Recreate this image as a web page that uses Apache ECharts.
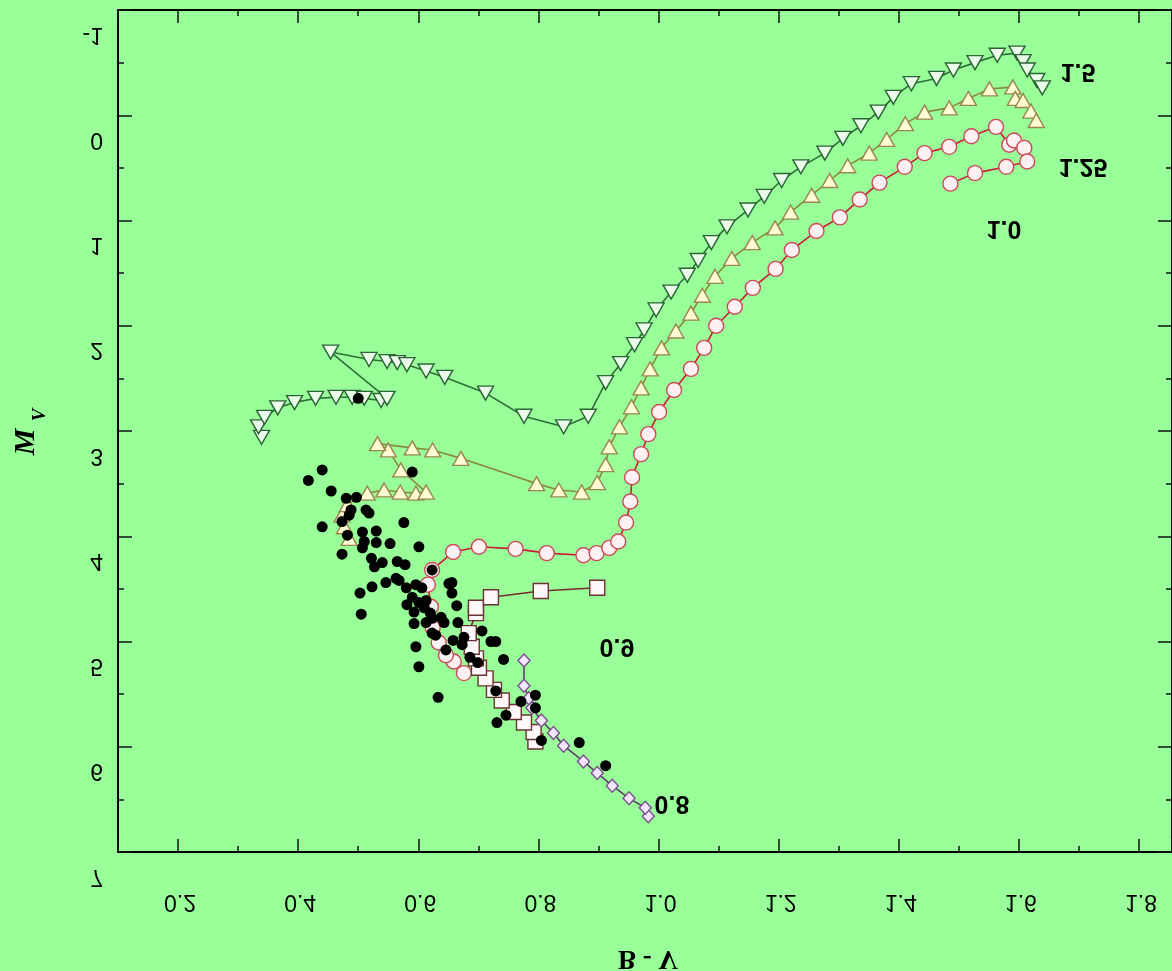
<!DOCTYPE html>
<html>
<head>
<meta charset="utf-8">
<script src="https://cdn.jsdelivr.net/npm/echarts@6/dist/echarts.min.js"></script>
<style>
html,body{margin:0;padding:0;background:#99ff99;}
#main{width:1172px;height:971px;}
</style>
</head>
<body>
<div id="main"></div>
<script>
// ---- data: [B-V, M_V] ----
const track15 = [[0.339,3.06],[0.334,2.96],[0.344,2.87],[0.366,2.78],[0.394,2.73],[0.429,2.69],[0.463,2.68],[0.490,2.68],[0.510,2.69],[0.538,2.71],[0.548,2.69],[0.454,2.25],[0.518,2.32],[0.548,2.34],[0.565,2.35],[0.581,2.37],[0.613,2.43],[0.644,2.49],[0.712,2.64],[0.776,2.86],[0.842,2.96],[0.883,2.86],[0.912,2.54],[0.937,2.36],[0.960,2.18],[0.976,2.04],[0.996,1.85],[1.021,1.68],[1.048,1.52],[1.066,1.38],[1.088,1.21],[1.114,1.06],[1.149,0.90],[1.176,0.77],[1.205,0.62],[1.237,0.49],[1.277,0.36],[1.307,0.22],[1.337,0.10],[1.366,-0.03],[1.391,-0.17],[1.421,-0.30],[1.463,-0.35],[1.491,-0.43],[1.527,-0.50],[1.564,-0.57],[1.597,-0.59],[1.607,-0.51],[1.614,-0.43],[1.630,-0.33],[1.639,-0.26]];
const track125 = [[0.485,4.02],[0.477,3.91],[0.473,3.80],[0.482,3.70],[0.515,3.59],[0.543,3.56],[0.570,3.58],[0.596,3.59],[0.613,3.58],[0.571,3.37],[0.550,3.18],[0.532,3.12],[0.590,3.16],[0.624,3.18],[0.671,3.26],[0.797,3.50],[0.834,3.56],[0.872,3.58],[0.898,3.49],[0.912,3.32],[0.918,3.15],[0.935,2.96],[0.955,2.77],[0.971,2.59],[0.986,2.41],[1.005,2.21],[1.029,2.05],[1.054,1.88],[1.073,1.71],[1.094,1.53],[1.122,1.36],[1.156,1.21],[1.194,1.07],[1.220,0.92],[1.255,0.76],[1.285,0.62],[1.315,0.48],[1.351,0.36],[1.380,0.23],[1.411,0.08],[1.443,-0.03],[1.484,-0.07],[1.516,-0.16],[1.551,-0.25],[1.590,-0.27],[1.594,-0.16],[1.607,-0.14],[1.620,-0.04],[1.629,0.05]];
const track10 = [[0.676,5.30],[0.659,5.19],[0.646,5.13],[0.634,5.01],[0.624,4.87],[0.621,4.67],[0.616,4.46],[0.623,4.32],[0.658,4.15],[0.701,4.10],[0.762,4.12],[0.814,4.16],[0.875,4.18],[0.897,4.16],[0.918,4.11],[0.933,4.05],[0.946,3.87],[0.953,3.67],[0.956,3.44],[0.971,3.22],[0.983,3.03],[1.001,2.82],[1.026,2.61],[1.054,2.41],[1.076,2.21],[1.096,2.00],[1.127,1.82],[1.157,1.64],[1.195,1.46],[1.222,1.28],[1.263,1.10],[1.302,0.97],[1.335,0.80],[1.368,0.64],[1.410,0.49],[1.443,0.36],[1.484,0.30],[1.521,0.20],[1.562,0.11],[1.584,0.28],[1.592,0.24],[1.609,0.31],[1.614,0.44],[1.579,0.49],[1.527,0.55],[1.486,0.65]];
const track09 = [[0.795,5.95],[0.792,5.86],[0.776,5.77],[0.759,5.67],[0.739,5.56],[0.726,5.46],[0.712,5.35],[0.701,5.25],[0.696,5.16],[0.689,5.05],[0.684,4.92],[0.696,4.73],[0.696,4.68],[0.721,4.58],[0.804,4.52],[0.898,4.49]];
const track08 = [[0.983,6.66],[0.978,6.58],[0.951,6.49],[0.923,6.37],[0.898,6.25],[0.875,6.14],[0.842,5.99],[0.825,5.87],[0.805,5.75],[0.789,5.63],[0.784,5.54],[0.776,5.42],[0.776,5.18]];
const stars = [[0.500,2.69],[0.590,3.39],[0.440,3.37],[0.417,3.47],[0.455,3.57],[0.480,3.64],[0.497,3.63],[0.513,3.75],[0.518,3.78],[0.488,3.75],[0.485,3.80],[0.473,3.86],[0.440,3.91],[0.482,3.99],[0.507,3.96],[0.530,3.95],[0.576,3.87],[0.510,4.05],[0.530,4.06],[0.553,4.07],[0.601,4.10],[0.473,4.17],[0.507,4.11],[0.522,4.21],[0.527,4.29],[0.540,4.25],[0.565,4.24],[0.578,4.27],[0.623,4.32],[0.546,4.44],[0.563,4.40],[0.568,4.42],[0.523,4.48],[0.503,4.54],[0.580,4.49],[0.596,4.46],[0.606,4.49],[0.651,4.45],[0.656,4.44],[0.656,4.54],[0.590,4.58],[0.601,4.63],[0.613,4.61],[0.581,4.65],[0.610,4.68],[0.620,4.73],[0.593,4.72],[0.505,4.74],[0.664,4.66],[0.623,4.78],[0.613,4.82],[0.638,4.77],[0.643,4.82],[0.593,4.83],[0.666,4.82],[0.623,4.92],[0.629,4.94],[0.658,4.99],[0.676,4.96],[0.706,4.90],[0.673,5.03],[0.646,5.08],[0.721,5.00],[0.729,5.00],[0.596,5.05],[0.686,5.15],[0.699,5.20],[0.742,5.17],[0.601,5.24],[0.729,5.47],[0.633,5.53],[0.771,5.57],[0.795,5.51],[0.795,5.63],[0.746,5.70],[0.731,5.77],[0.805,5.94],[0.868,5.96],[0.912,6.18]];
const xTickValues = [0.2,0.4,0.6,0.8,1.0,1.2,1.4,1.6,1.8];
const xTickLabels = ['0.2','0.4','0.6','0.8','1.0','1.2','1.4','1.6','1.8'];
const yTickValues = [-1,0,1,2,3,4,5,6,7];
const yTickLabels = ['-1','0','1','2','3','4','5','6','7'];
const trackNames = ['1.5','1.25','1.0','0.9','0.8'];

const chart = echarts.init(document.getElementById('main'), null, {renderer:'canvas'});

const tickStyle = {color:'#111', width:1.5};
function xAx(pos){
  return {type:'value', position:pos, min:0.1, max:1.855, splitNumber:9, minInterval:0.2, maxInterval:0.2,
    axisLine:{show:true, onZero:false, lineStyle:{color:'#000', width:2}},
    axisTick:{show:true, inside:true, length:13, lineStyle:tickStyle},
    minorTick:{show:true, splitNumber:2, length:6, lineStyle:tickStyle},
    axisLabel:{show:false}, splitLine:{show:false}};
}
function yAx(pos){
  return {type:'value', position:pos, min:-1, max:7, interval:1, inverse:true,
    axisLine:{show:true, onZero:false, lineStyle:{color:'#000', width:2}},
    axisTick:{show:true, inside:true, length:14, lineStyle:tickStyle},
    minorTick:{show:true, splitNumber:2, length:6, lineStyle:tickStyle},
    axisLabel:{show:false}, splitLine:{show:false}};
}
function track(name, data, symbol, size, rot, line, border, fill){
  return {name, type:'line', data, symbol, symbolSize:size, symbolRotate:rot, showSymbol:true,
    lineStyle:{color:line, width:1.6}, itemStyle:{color:fill, borderColor:border, borderWidth:1.4, opacity:1},
    z:2, silent:true};
}

const option = {
  animation:false,
  backgroundColor:'#99ff99',
  grid:{left:118, top:10, right:-3, bottom:119, containLabel:false},
  xAxis:[xAx('bottom'), xAx('top')],
  yAxis:[yAx('left'), yAx('right')],
  series:[
    track(trackNames[0], track15, 'triangle', [16,14], 180, '#2f6e38', '#2a6434', '#eafbea'),
    track(trackNames[1], track125, 'triangle', [16,14], 0, '#8a8a3c', '#9a8650', '#fffbd2'),
    track(trackNames[2], track10, 'circle', 15, 0, '#cc1c34', '#cc4858', '#fff0f2'),
    track(trackNames[3], track09, 'rect', 15, 0, '#7a2a2a', '#6a3232', '#fff8f8'),
    track(trackNames[4], track08, 'diamond', [12,13], 0, '#5e3c6c', '#7c4c8c', '#f3e6ff'),
    {name:'stars', type:'scatter', data:stars, symbol:'circle', symbolSize:11,
      itemStyle:{color:'#000', opacity:1}, z:3, silent:true}
  ]
};
chart.setOption(option);

function flipText(text, x, y, align, font){
  return {type:'text', x:x, y:y, scaleY:-1, silent:true, z:10,
    style:{text:text, font:font, fill:'#000', align:align, verticalAlign:'middle'}};
}
const tickFont = '23px "Liberation Sans", Arial, sans-serif';
const g = [];
xTickValues.forEach((v,i)=>{
  const px = chart.convertToPixel({xAxisIndex:0}, v);
  g.push(flipText(xTickLabels[i], px + 2, 901, 'center', tickFont));
});
yTickValues.forEach((v,i)=>{
  const py = chart.convertToPixel({yAxisIndex:0}, v);
  g.push(flipText(yTickLabels[i], 103, py + 24, 'right', tickFont));
});
const lblFont = 'bold 25px "Liberation Sans", Arial, sans-serif';
g.push(flipText(trackNames[0], 1078, 71, 'center', lblFont));
g.push(flipText(trackNames[1], 1083, 166, 'center', lblFont));
g.push(flipText(trackNames[2], 1004, 228, 'center', lblFont));
g.push(flipText(trackNames[3], 617, 646, 'center', lblFont));
g.push(flipText(trackNames[4], 672, 803, 'center', lblFont));
g.push(flipText('B - V', 648, 958, 'center', 'bold 27px "Liberation Serif", "DejaVu Serif", serif'));
g.push({type:'text', x:26, y:442, rotation:Math.PI/2, silent:true, z:10,
  style:{text:'M', font:'italic bold 30px "Liberation Serif", serif', fill:'#000', align:'center', verticalAlign:'middle'}});
g.push({type:'text', x:40, y:415, rotation:Math.PI/2, silent:true, z:10,
  style:{text:'V', font:'italic bold 19px "Liberation Serif", serif', fill:'#000', align:'center', verticalAlign:'middle'}});
chart.setOption({graphic:g});
</script>
</body>
</html>
